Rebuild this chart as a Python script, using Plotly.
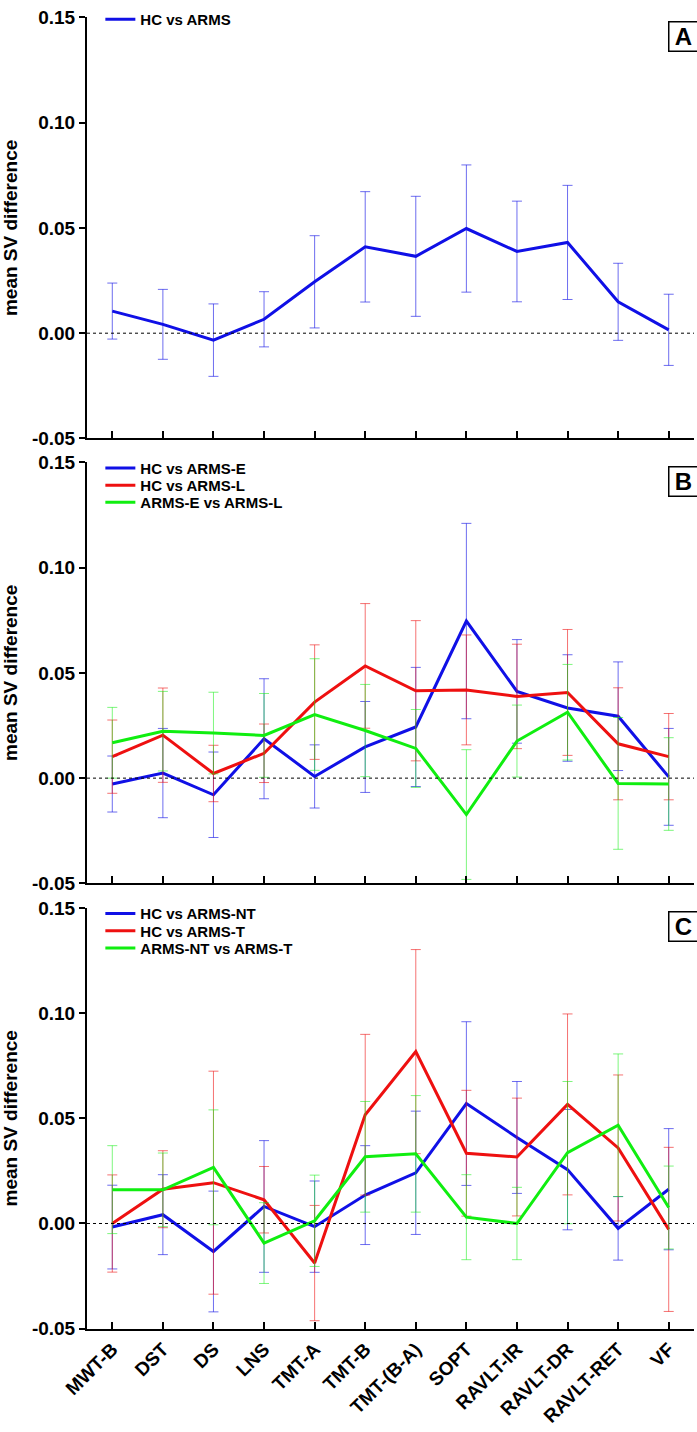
import plotly.graph_objects as go

categories = ["MWT-B", "DST", "DS", "LNS", "TMT-A", "TMT-B", "TMT-(B-A)",
              "SOPT", "RAVLT-IR", "RAVLT-DR", "RAVLT-RET", "VF"]

# Panel A
a_hc_arms = [0.0105, 0.0042, -0.0033, 0.0066, 0.0244, 0.0410, 0.0365, 0.0497, 0.0388, 0.0431, 0.0149, 0.0016]
a_hc_arms_ci = [0.0133, 0.0166, 0.0172, 0.0131, 0.0219, 0.0262, 0.0285, 0.0302, 0.0239, 0.0271, 0.0183, 0.0169]

# Panel B
b_hc_e = [-0.0028, 0.0024, -0.0079, 0.0187, 0.0008, 0.0148, 0.0243, 0.0746, 0.0412, 0.0333, 0.0294, 0.0006]
b_hc_e_ci = [0.0133, 0.0212, 0.0203, 0.0285, 0.0150, 0.0216, 0.0283, 0.0464, 0.0246, 0.0253, 0.0258, 0.0230]
b_hc_l = [0.0102, 0.0204, 0.0022, 0.0118, 0.0361, 0.0533, 0.0415, 0.0419, 0.0388, 0.0407, 0.0163, 0.0102]
b_hc_l_ci = [0.0174, 0.0224, 0.0134, 0.0139, 0.0272, 0.0296, 0.0333, 0.0261, 0.0248, 0.0299, 0.0266, 0.0205]
b_e_l = [0.0168, 0.0223, 0.0214, 0.0203, 0.0302, 0.0226, 0.0141, -0.0173, 0.0176, 0.0313, -0.0025, -0.0028]
b_e_l_ci = [0.0168, 0.0189, 0.0194, 0.0199, 0.0265, 0.0219, 0.0185, 0.0308, 0.0171, 0.0227, 0.0313, 0.0220]

# Panel C
c_hc_nt = [-0.0017, 0.0042, -0.0133, 0.0081, -0.0015, 0.0135, 0.0241, 0.0570, 0.0409, 0.0256, -0.0023, 0.0163]
c_hc_nt_ci = [0.0199, 0.0190, 0.0287, 0.0313, 0.0217, 0.0235, 0.0293, 0.0389, 0.0266, 0.0286, 0.0151, 0.0288]
c_hc_t = [0.0000, 0.0163, 0.0194, 0.0113, -0.0188, 0.0517, 0.0817, 0.0334, 0.0316, 0.0566, 0.0359, -0.0028]
c_hc_t_ci = [0.0231, 0.0183, 0.0530, 0.0158, 0.0274, 0.0382, 0.0485, 0.0299, 0.0280, 0.0430, 0.0347, 0.0390]
c_nt_t = [0.0161, 0.0160, 0.0267, -0.0093, 0.0013, 0.0317, 0.0331, 0.0030, 0.0000, 0.0337, 0.0467, 0.0076]
c_nt_t_ci = [0.0209, 0.0175, 0.0273, 0.0192, 0.0217, 0.0263, 0.0277, 0.0202, 0.0172, 0.0338, 0.0339, 0.0197]

y_tick_vals = [-0.05, 0.0, 0.05, 0.10, 0.15]
y_tick_text = ["-0.05", "0.00", "0.05", "0.10", "0.15"]
panel_letters = ["A", "B", "C"]

FONT = "Liberation Sans, Arial, sans-serif"
BLUE, RED, GREEN = "#1010e6", "#ee1010", "#10ee10"
BLUE_E, RED_E, GREEN_E = "rgba(30,30,230,0.65)", "rgba(238,20,20,0.6)", "rgba(20,238,20,0.55)"

W, H = 697, 1432
ML, MR, MT, MB = 87, 3, 7, 103
PH = H - MT - MB

def py(pix):
    return (H - MB - pix) / PH

x = list(range(len(categories)))

panels = [
    ("x", "y", [("HC vs ARMS", a_hc_arms, a_hc_arms_ci, BLUE, BLUE_E)]),
    ("x2", "y2", [("HC vs ARMS-E", b_hc_e, b_hc_e_ci, BLUE, BLUE_E),
                  ("HC vs ARMS-L", b_hc_l, b_hc_l_ci, RED, RED_E),
                  ("ARMS-E vs ARMS-L", b_e_l, b_e_l_ci, GREEN, GREEN_E)]),
    ("x3", "y3", [("HC vs ARMS-NT", c_hc_nt, c_hc_nt_ci, BLUE, BLUE_E),
                  ("HC vs ARMS-T", c_hc_t, c_hc_t_ci, RED, RED_E),
                  ("ARMS-NT vs ARMS-T", c_nt_t, c_nt_t_ci, GREEN, GREEN_E)]),
]
# centre (in px from top) of each legend entry
legend_rows = [[9.5], [461.7, 479.0, 496.3], [910.7, 928.0, 945.3]]

layout = dict(
    width=W, height=H, margin=dict(l=ML, r=MR, t=MT, b=MB),
    paper_bgcolor="white", plot_bgcolor="white",
    font=dict(family=FONT, color="black", size=15),
    showlegend=True, hovermode=False,
)

fig = go.Figure()
k = 0
for p, (xa, ya, series) in enumerate(panels):
    for j, (name, vals, ci, col, ecol) in enumerate(series):
        lname = "legend" if k == 0 else "legend" + str(k + 1)
        fig.add_trace(go.Scatter(
            x=x, y=vals, name=name, mode="lines", xaxis=xa, yaxis=ya, legend=lname,
            line=dict(color=col, width=3),
            error_y=dict(type="data", array=ci, visible=True, color=ecol, thickness=1, width=5),
        ))
        layout[lname] = dict(
            x=0.022, y=py(legend_rows[p][j]), xanchor="left", yanchor="middle",
            bgcolor="rgba(0,0,0,0)", borderwidth=0,
            font=dict(family=FONT, size=15, weight="bold", color="black"),
            itemwidth=30,
        )
        k += 1

domains = [[py(431.7), py(7.3)], [py(880), py(455.7)], [py(1328.7), py(904.7)]]

for i in range(3):
    sx = "" if i == 0 else str(i + 1)
    last = i == 2
    layout["xaxis" + sx] = dict(
        domain=[0, 1], anchor="y" + sx, range=[-0.5, 11.5],
        tickmode="array", tickvals=x, ticktext=categories,
        showticklabels=last, tickangle=-45,
        tickfont=dict(family=FONT, size=19, weight="bold", color="black"),
        ticks="inside", ticklen=7, tickwidth=2, tickcolor="black",
        showline=True, linewidth=2, linecolor="black", showgrid=False, zeroline=False,
        fixedrange=True,
    )
    layout["yaxis" + sx] = dict(
        domain=domains[i], anchor="x" + sx, range=[-0.05, 0.15],
        tickmode="array", tickvals=y_tick_vals, ticktext=y_tick_text,
        tickfont=dict(family=FONT, size=19, weight="bold", color="black"),
        ticks="outside", ticklen=6, tickwidth=2, tickcolor="black",
        showline=True, linewidth=2, linecolor="black", showgrid=False, zeroline=False,
        fixedrange=True,
        title=dict(text="mean SV difference", font=dict(family=FONT, size=19, weight="bold"), standoff=12),
    )

fig.update_layout(**layout)

for i, letter in enumerate(panel_letters):
    sx = "" if i == 0 else str(i + 1)
    fig.add_shape(type="line", xref=("x" + sx) + " domain", yref="y" + sx,
                  x0=0, x1=1, y0=0, y1=0, line=dict(color="black", width=1, dash="dot"))
    fig.add_annotation(text=letter, xref=("x" + sx) + " domain", yref=("y" + sx) + " domain",
                       x=1.008, y=0.955, xanchor="right", yanchor="middle", showarrow=False,
                       font=dict(family=FONT, size=24, weight="bold", color="black"),
                       bordercolor="black", borderwidth=1.5, bgcolor="white",
                       width=26, height=26)

fig.write_html("out.html", config={"displayModeBar": False},
               post_script="document.body.style.margin='0';document.body.style.overflow='hidden';")
